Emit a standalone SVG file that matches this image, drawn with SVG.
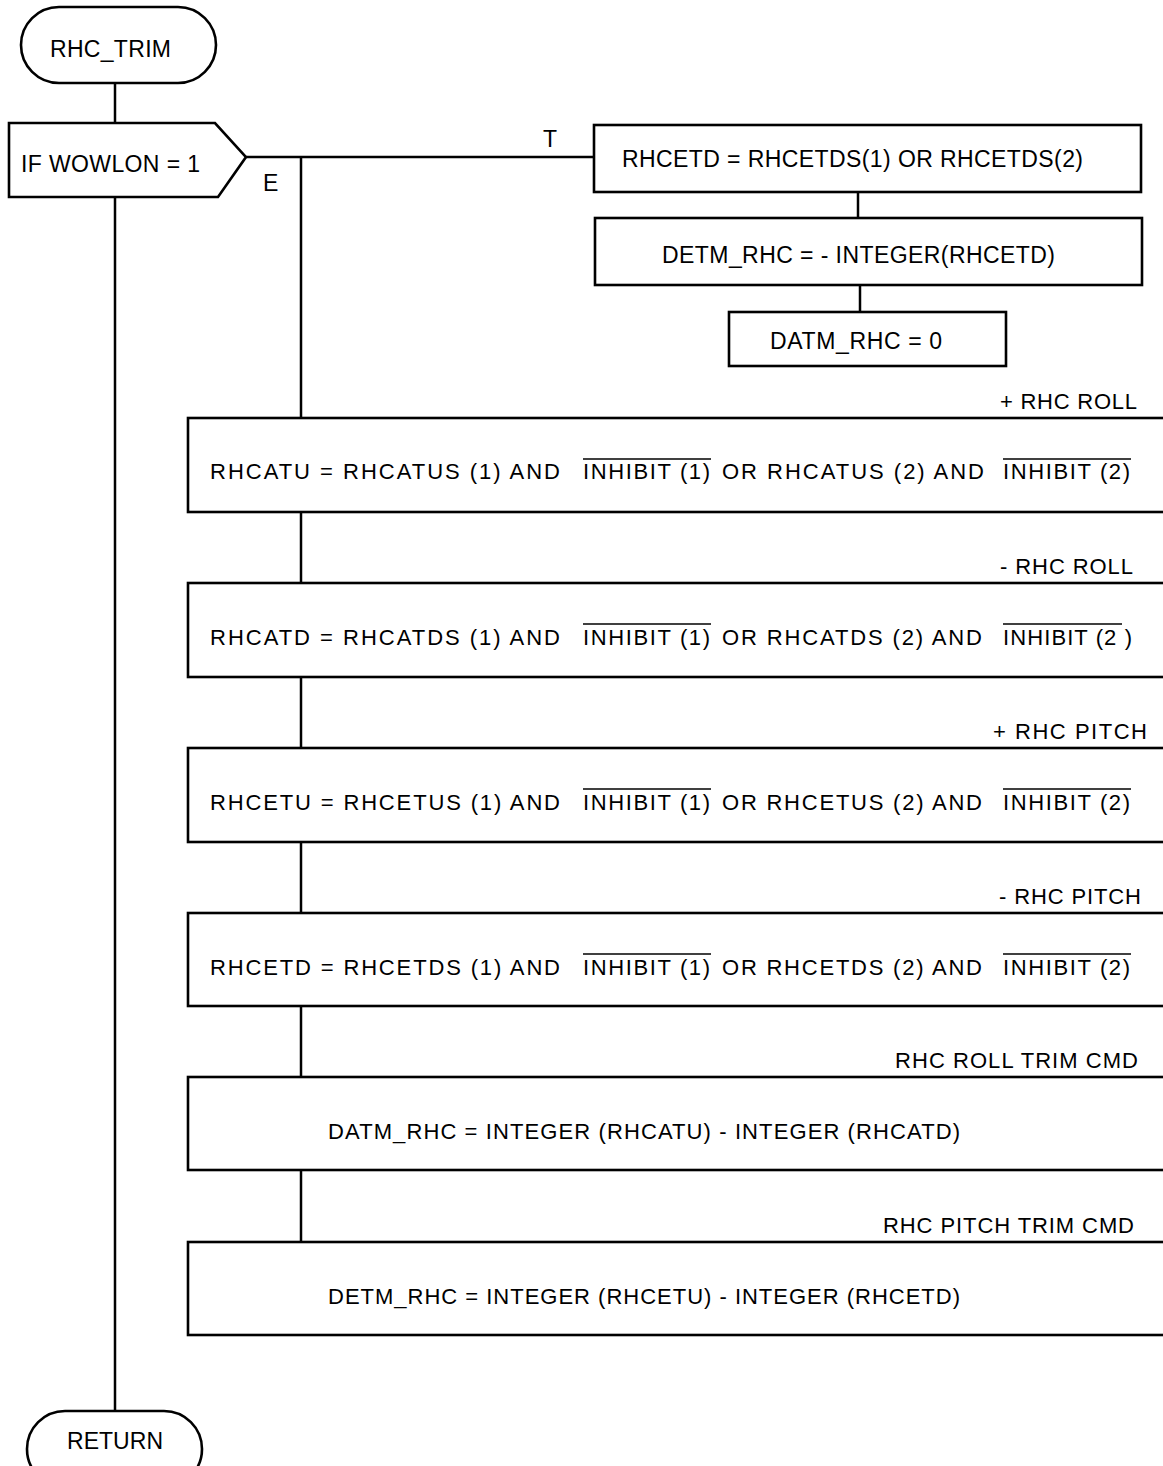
<svg xmlns="http://www.w3.org/2000/svg" width="1163" height="1466" viewBox="0 0 1163 1466">
<style>
text{font-family:"Liberation Sans",Arial,sans-serif;font-size:22px;fill:#000}
.t{font-size:23px}
.s{fill:#fff;stroke:#000;stroke-width:2.6}
.c{fill:none;stroke:#000;stroke-width:2.5}
.o{stroke:#000;stroke-width:1.5}
.e{text-anchor:end}
</style>
<rect width="1163" height="1466" fill="#fff"/>
<g id="connectors">
<line class="c" x1="115" y1="83" x2="115" y2="123"/>
<line class="c" x1="115" y1="197" x2="115" y2="1411"/>
<line class="c" x1="246" y1="157" x2="594" y2="157"/>
<line class="c" x1="301" y1="157" x2="301" y2="418"/>
<line class="c" x1="858" y1="192" x2="858" y2="218"/>
<line class="c" x1="860" y1="285" x2="860" y2="312"/>
<line class="c" x1="301" y1="512" x2="301" y2="583"/>
<line class="c" x1="301" y1="677" x2="301" y2="748"/>
<line class="c" x1="301" y1="842" x2="301" y2="913"/>
<line class="c" x1="301" y1="1006" x2="301" y2="1077"/>
<line class="c" x1="301" y1="1170" x2="301" y2="1242"/>
<text class="t" x="543" y="147" textLength="12">T</text>
<text class="t" x="263" y="191" textLength="13">E</text>
</g>
<g id="start">
<rect class="s" x="21" y="7" width="195" height="76" rx="38" ry="38"/>
<text class="t" x="50" y="57" textLength="121">RHC_TRIM</text>
</g>
<g id="decision">
<polygon class="s" points="9,123 215,123 246,157 218,197 9,197"/>
<text class="t" x="21" y="172" textLength="179">IF WOWLON = 1</text>
</g>
<g id="box1">
<rect class="s" x="594" y="125" width="547" height="67"/>
<text class="t" x="622" y="167" textLength="461">RHCETD = RHCETDS(1) OR RHCETDS(2)</text>
</g>
<g id="box2">
<rect class="s" x="595" y="218" width="547" height="67"/>
<text class="t" x="662" y="263" textLength="393">DETM_RHC = - INTEGER(RHCETD)</text>
</g>
<g id="box3">
<rect class="s" x="729" y="312" width="277" height="54"/>
<text class="t" x="770" y="349" textLength="172">DATM_RHC = 0</text>
</g>
<g id="rollUp">
<rect class="s" x="188" y="418" width="990" height="94"/>
<text class="e" x="1137" y="409" textLength="137">+ RHC ROLL</text>
<text x="210" y="479" textLength="350">RHCATU = RHCATUS (1) AND</text>
<text x="583" y="479" textLength="127">INHIBIT (1)</text>
<text x="722" y="479" textLength="262">OR RHCATUS (2) AND</text>
<text x="1003" y="479" textLength="127">INHIBIT (2)</text>
<line class="o" x1="583" y1="459" x2="711" y2="459"/>
<line class="o" x1="1003" y1="459" x2="1131" y2="459"/>
</g>
<g id="rollDown">
<rect class="s" x="188" y="583" width="990" height="94"/>
<text class="e" x="1133" y="574" textLength="133">- RHC ROLL</text>
<text x="210" y="645" textLength="350">RHCATD = RHCATDS (1) AND</text>
<text x="583" y="645" textLength="127">INHIBIT (1)</text>
<text x="722" y="645" textLength="260">OR RHCATDS (2) AND</text>
<text x="1003" y="645" textLength="129">INHIBIT (2 )</text>
<line class="o" x1="583" y1="624" x2="711" y2="624"/>
<line class="o" x1="1003" y1="624" x2="1122" y2="624"/>
</g>
<g id="pitchUp">
<rect class="s" x="188" y="748" width="990" height="94"/>
<text class="e" x="1147" y="739" textLength="154">+ RHC PITCH</text>
<text x="210" y="810" textLength="350">RHCETU = RHCETUS (1) AND</text>
<text x="583" y="810" textLength="127">INHIBIT (1)</text>
<text x="722" y="810" textLength="260">OR RHCETUS (2) AND</text>
<text x="1003" y="810" textLength="127">INHIBIT (2)</text>
<line class="o" x1="583" y1="789" x2="711" y2="789"/>
<line class="o" x1="1003" y1="789" x2="1131" y2="789"/>
</g>
<g id="pitchDown">
<rect class="s" x="188" y="913" width="990" height="93"/>
<text class="e" x="1141" y="904" textLength="142">- RHC PITCH</text>
<text x="210" y="975" textLength="350">RHCETD = RHCETDS (1) AND</text>
<text x="583" y="975" textLength="127">INHIBIT (1)</text>
<text x="722" y="975" textLength="260">OR RHCETDS (2) AND</text>
<text x="1003" y="975" textLength="127">INHIBIT (2)</text>
<line class="o" x1="583" y1="954" x2="711" y2="954"/>
<line class="o" x1="1003" y1="954" x2="1131" y2="954"/>
</g>
<g id="rollCmd">
<rect class="s" x="188" y="1077" width="990" height="93"/>
<text class="e" x="1138" y="1068" textLength="243">RHC ROLL TRIM CMD</text>
<text x="328" y="1139" textLength="632">DATM_RHC = INTEGER (RHCATU) - INTEGER (RHCATD)</text>
</g>
<g id="pitchCmd">
<rect class="s" x="188" y="1242" width="990" height="93"/>
<text class="e" x="1134" y="1233" textLength="251">RHC PITCH TRIM CMD</text>
<text x="328" y="1304" textLength="632">DETM_RHC = INTEGER (RHCETU) - INTEGER (RHCETD)</text>
</g>
<g id="return">
<rect class="s" x="27" y="1411" width="175" height="76" rx="38" ry="38"/>
<text class="t" x="67" y="1449" textLength="96">RETURN</text>
</g>
</svg>
